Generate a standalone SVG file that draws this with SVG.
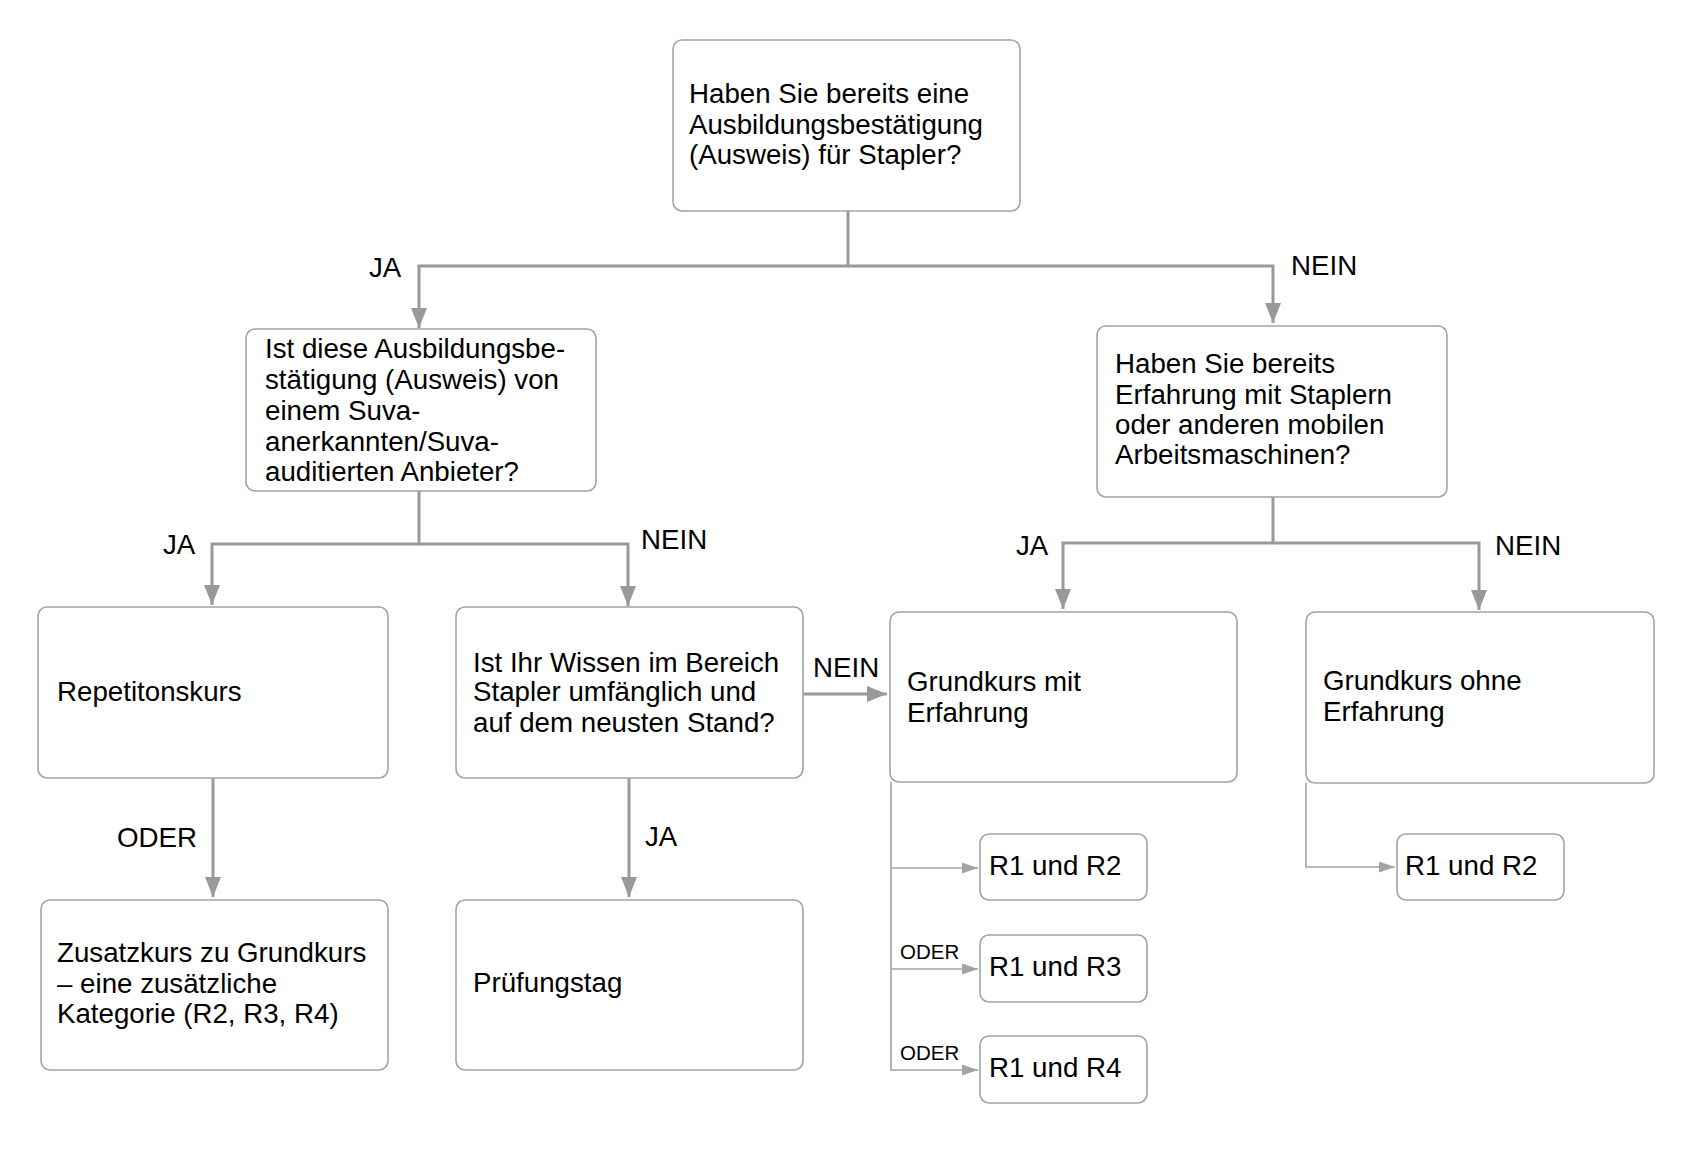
<svg xmlns="http://www.w3.org/2000/svg" width="1698" height="1150" viewBox="0 0 1698 1150">
<style>
.box{fill:#ffffff;stroke:#a3a3a3;stroke-width:1.6}
.t{font-family:"Liberation Sans",Arial,sans-serif;font-size:27.7px;fill:#000}
.ts{font-family:"Liberation Sans",Arial,sans-serif;font-size:20.5px;fill:#000}
.c{fill:none;stroke:#999999;stroke-width:3}
.cs{fill:none;stroke:#a3a3a3;stroke-width:1.6}
</style>
<defs>
<marker id="ab" viewBox="0 0 20 16" markerWidth="20" markerHeight="16" refX="20" refY="8" orient="auto" markerUnits="userSpaceOnUse">
<path d="M0,0 L20,8 L0,16 z" fill="#999999"/>
</marker>
<marker id="as" viewBox="0 0 16 11" markerWidth="16" markerHeight="11" refX="16" refY="5.5" orient="auto" markerUnits="userSpaceOnUse">
<path d="M0,0 L16,5.5 L0,11 z" fill="#a3a3a3"/>
</marker>
</defs>
<rect width="1698" height="1150" fill="#ffffff"/>
<g id="connectors">
<path class="c" d="M848,211 V266 H419 V328" marker-end="url(#ab)"/>
<path class="c" d="M848,266 H1273 V323" marker-end="url(#ab)"/>
<path class="c" d="M419,491 V544 H212 V605" marker-end="url(#ab)"/>
<path class="c" d="M419,544 H628 V606" marker-end="url(#ab)"/>
<path class="c" d="M1273,497 V543 H1063 V609" marker-end="url(#ab)"/>
<path class="c" d="M1273,543 H1479 V610" marker-end="url(#ab)"/>
<path class="c" d="M213,778 V897" marker-end="url(#ab)"/>
<path class="c" d="M629,778 V897" marker-end="url(#ab)"/>
<path class="c" d="M803,694 H887" marker-end="url(#ab)"/>
<path class="cs" d="M891,782 V1070 H978" marker-end="url(#as)"/>
<path class="cs" d="M891,868 H978" marker-end="url(#as)"/>
<path class="cs" d="M891,969 H978" marker-end="url(#as)"/>
<path class="cs" d="M1306,783 V867 H1395" marker-end="url(#as)"/>
<text class="t" x="369" y="277">JA</text>
<text class="t" x="1291" y="275">NEIN</text>
<text class="t" x="163" y="554">JA</text>
<text class="t" x="641" y="549">NEIN</text>
<text class="t" x="1016" y="555">JA</text>
<text class="t" x="1495" y="555">NEIN</text>
<text class="t" x="813" y="677">NEIN</text>
<text class="t" x="117" y="847">ODER</text>
<text class="t" x="645" y="846">JA</text>
<text class="ts" x="900" y="959">ODER</text>
<text class="ts" x="900" y="1060">ODER</text>
</g>
<g id="n1">
<rect class="box" x="673" y="40" width="347" height="171" rx="9"/>
<text class="t" x="689" y="103">Haben Sie bereits eine</text>
<text class="t" x="689" y="134">Ausbildungsbestätigung</text>
<text class="t" x="689" y="164">(Ausweis) für Stapler?</text>
</g>
<g id="n2">
<rect class="box" x="246" y="329" width="350" height="162" rx="9"/>
<text class="t" x="265" y="358">Ist diese Ausbildungsbe-</text>
<text class="t" x="265" y="389">stätigung (Ausweis) von</text>
<text class="t" x="265" y="420">einem Suva-</text>
<text class="t" x="265" y="451">anerkannten/Suva-</text>
<text class="t" x="265" y="481">auditierten Anbieter?</text>
</g>
<g id="n3">
<rect class="box" x="1097" y="326" width="350" height="171" rx="9"/>
<text class="t" x="1115" y="373">Haben Sie bereits</text>
<text class="t" x="1115" y="404">Erfahrung mit Staplern</text>
<text class="t" x="1115" y="434">oder anderen mobilen</text>
<text class="t" x="1115" y="464">Arbeitsmaschinen?</text>
</g>
<g id="n4">
<rect class="box" x="38" y="607" width="350" height="171" rx="9"/>
<text class="t" x="57" y="701">Repetitonskurs</text>
</g>
<g id="n5">
<rect class="box" x="41" y="900" width="347" height="170" rx="9"/>
<text class="t" x="57" y="962">Zusatzkurs zu Grundkurs</text>
<text class="t" x="57" y="993">– eine zusätzliche</text>
<text class="t" x="57" y="1023">Kategorie (R2, R3, R4)</text>
</g>
<g id="n6">
<rect class="box" x="456" y="607" width="347" height="171" rx="9"/>
<text class="t" x="473" y="672">Ist Ihr Wissen im Bereich</text>
<text class="t" x="473" y="701">Stapler umfänglich und</text>
<text class="t" x="473" y="732">auf dem neusten Stand?</text>
</g>
<g id="n7">
<rect class="box" x="456" y="900" width="347" height="170" rx="9"/>
<text class="t" x="473" y="992">Prüfungstag</text>
</g>
<g id="n8">
<rect class="box" x="890" y="612" width="347" height="170" rx="9"/>
<text class="t" x="907" y="691">Grundkurs mit</text>
<text class="t" x="907" y="722">Erfahrung</text>
</g>
<g id="n9">
<rect class="box" x="1306" y="612" width="348" height="171" rx="9"/>
<text class="t" x="1323" y="690">Grundkurs ohne</text>
<text class="t" x="1323" y="721">Erfahrung</text>
</g>
<g id="n10">
<rect class="box" x="980" y="834" width="167" height="66" rx="9"/>
<text class="t" x="989" y="875">R1 und R2</text>
</g>
<g id="n11">
<rect class="box" x="980" y="935" width="167" height="67" rx="9"/>
<text class="t" x="989" y="976">R1 und R3</text>
</g>
<g id="n12">
<rect class="box" x="980" y="1036" width="167" height="67" rx="9"/>
<text class="t" x="989" y="1077">R1 und R4</text>
</g>
<g id="n13">
<rect class="box" x="1397" y="834" width="167" height="66" rx="9"/>
<text class="t" x="1405" y="875">R1 und R2</text>
</g>
</svg>
